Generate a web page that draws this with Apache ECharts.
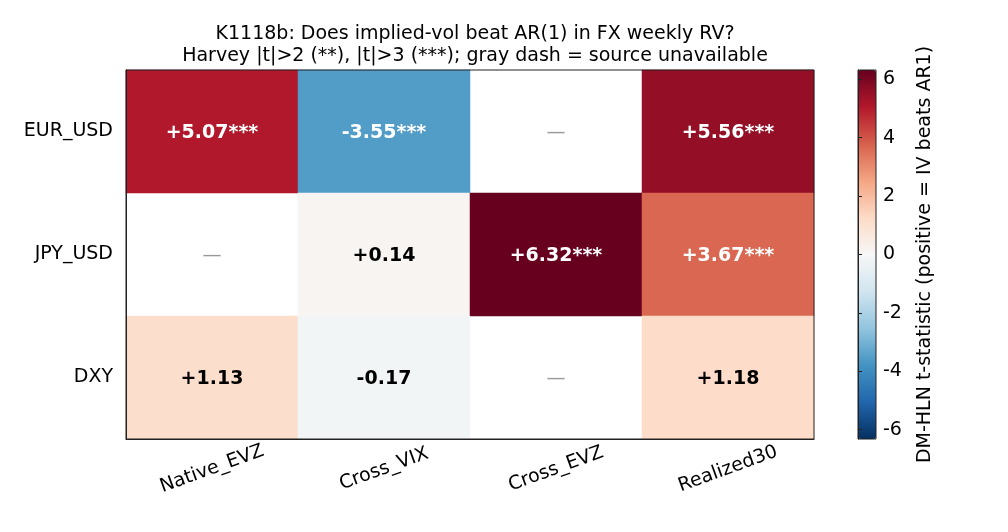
<!DOCTYPE html>
<html>
<head>
<meta charset="utf-8">
<script src="https://cdn.jsdelivr.net/npm/echarts@6/dist/echarts.min.js"></script>
<style>
  html, body { margin: 0; padding: 0; background: #fff; }
  #chart { width: 1008px; height: 532px; }
</style>
</head>
<body>
<div id="chart"></div>
<script>
var sources = ['Native_EVZ', 'Cross_VIX', 'Cross_EVZ', 'Realized30'];
var assets = ['EUR_USD', 'JPY_USD', 'DXY'];
// DM-HLN t-statistics, null = source unavailable
var tEUR = [5.07, -3.55, null, 5.56];
var tJPY = [null, 0.14, 6.32, 3.67];
var tDXY = [1.13, -0.17, null, 1.18];
var cbTicks = [-6, -4, -2, 0, 2, 4, 6];

var rows = [tEUR, tJPY, tDXY];
var FONT = 'DejaVu Sans';
var FS = 19;
var RdBu_r = ['#053061', '#2166ac', '#4393c3', '#92c5de', '#d1e5f0', '#f7f7f7',
              '#fddbc7', '#f4a582', '#d6604d', '#b2182b', '#67001f'];

var vmax = 0;
rows.forEach(function(r) {
    r.forEach(function(v) { if (v !== null) vmax = Math.max(vmax, Math.abs(v)); });
});

function stars(v) {
    var a = Math.abs(v);
    return a > 3 ? '***' : (a > 2 ? '**' : '');
}

var cells = [], missing = [];
rows.forEach(function(r, j) {
    r.forEach(function(v, i) {
        if (v === null) {
            missing.push([i, j]);
            return;
        }
        cells.push({
            value: [i, j, v],
            label: { color: Math.abs(v) > 3 ? '#fff' : '#000' }
        });
    });
});

var chart = echarts.init(document.getElementById('chart'));

chart.setOption({
    animation: false,
    textStyle: { fontFamily: FONT },
    title: {
        text: 'K1118b: Does implied-vol beat AR(1) in FX weekly RV?\nHarvey |t|>2 (**), |t|>3 (***); gray dash = source unavailable',
        left: 470,
        top: 18,
        textAlign: 'center',
        textStyle: { fontFamily: FONT, fontSize: FS, fontWeight: 'normal', color: '#000', lineHeight: 22 }
    },
    grid: [
        { left: 126, top: 70, width: 688, height: 369, show: true, z: 10,
          backgroundColor: 'transparent', borderColor: '#222', borderWidth: 1 },
        { left: 858, top: 70, width: 18, height: 369, show: true, z: 10,
          backgroundColor: 'transparent', borderColor: '#222', borderWidth: 1 }
    ],
    xAxis: [
        {
            type: 'category', gridIndex: 0, data: sources, z: 10,
            axisLine: { lineStyle: { color: '#222' } },
            axisTick: { alignWithLabel: true, length: 5, lineStyle: { color: '#222' } },
            axisLabel: { rotate: 20, align: 'center', verticalAlign: 'middle', margin: 30,
                         fontSize: FS, color: '#000' },
            splitLine: { show: false }
        },
        { type: 'value', gridIndex: 1, show: false, min: 0, max: 1 }
    ],
    yAxis: [
        {
            type: 'category', gridIndex: 0, data: assets, inverse: true, z: 10,
            axisLine: { lineStyle: { color: '#222' } },
            axisTick: { alignWithLabel: true, length: 5, lineStyle: { color: '#222' } },
            axisLabel: { fontSize: FS, color: '#000', margin: 13 },
            splitLine: { show: false }
        },
        {
            type: 'value', gridIndex: 1, position: 'right', z: 10,
            min: -vmax, max: vmax,
            axisLine: { show: true, lineStyle: { color: '#222' } },
            axisTick: { show: true, length: 4, customValues: cbTicks, lineStyle: { color: '#222' } },
            axisLabel: { customValues: cbTicks, fontSize: FS, color: '#000', margin: 7 },
            splitLine: { show: false },
            name: 'DM-HLN t-statistic (positive = IV beats AR1)',
            nameLocation: 'middle',
            nameRotate: 90,
            nameGap: 40,
            nameTextStyle: { fontSize: FS, color: '#000' }
        }
    ],
    visualMap: {
        type: 'continuous',
        seriesIndex: 0,
        min: -vmax,
        max: vmax,
        calculable: false,
        hoverLink: false,
        orient: 'vertical',
        left: 858,
        top: 70,
        padding: 0,
        itemWidth: 18,
        itemHeight: 369,
        inRange: { color: RdBu_r },
        textStyle: { fontSize: 0 }
    },
    series: [
        {
            type: 'heatmap',
            xAxisIndex: 0,
            yAxisIndex: 0,
            data: cells,
            label: {
                show: true,
                fontSize: FS,
                fontWeight: 'bold',
                offset: [0, 2],
                formatter: function(p) {
                    var v = p.value[2];
                    return (v >= 0 ? '+' : '') + v.toFixed(2) + stars(v);
                }
            },
            emphasis: { disabled: true }
        },
        {
            type: 'scatter',
            xAxisIndex: 0,
            yAxisIndex: 0,
            symbolSize: 0,
            data: missing,
            label: { show: true, position: 'inside', formatter: '\u2014', fontSize: FS,
                     color: '#808080', offset: [0, 2] },
            emphasis: { disabled: true }
        }
    ]
});
</script>
</body>
</html>
